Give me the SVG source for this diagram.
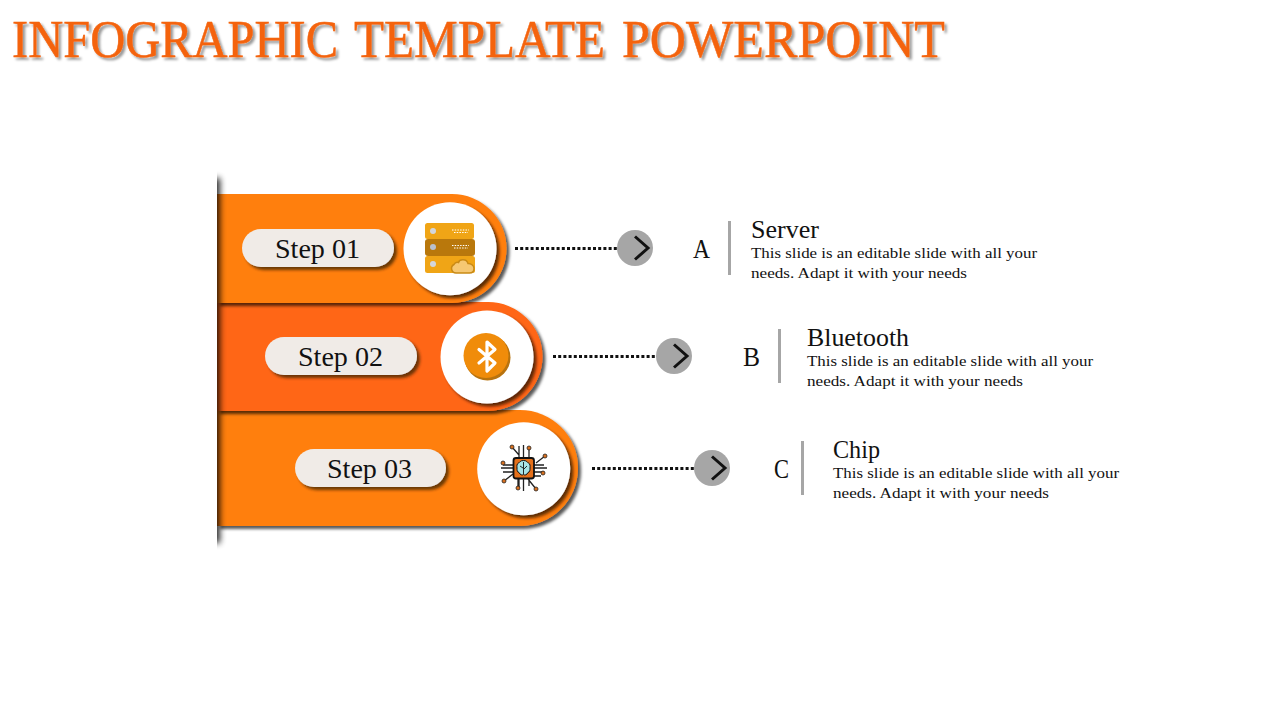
<svg xmlns="http://www.w3.org/2000/svg" width="1280" height="720" viewBox="0 0 1280 720">
<style>
text{font-family:"Liberation Serif","Times New Roman",serif;fill:#111}
.title{font-size:53px;fill:#F4640F;stroke:#F4640F;stroke-width:.5;filter:url(#ts)}
.step{font-size:28px}
.letter{font-size:28px}
.head{font-size:25px}
.desc{font-size:15.5px}
.pill{fill:#F0EBE7;filter:url(#ps)}
.disc{fill:#fff;filter:url(#cs)}
.bar{fill:#A6A6A6}
.dots{fill:none;stroke:#111;stroke-width:3;stroke-dasharray:3 2.2}
.btn{fill:#A6A6A6}
.chev{fill:none;stroke:#111;stroke-width:3}
.w{fill:none;stroke:#222;stroke-width:1.3}
.p{fill:#D9701E;stroke:#222;stroke-width:.8}
</style>
<defs>
<filter id="ts" x="-2%" y="-20%" width="104%" height="150%"><feDropShadow dx="2.5" dy="2.5" stdDeviation="1.2" flood-color="#000" flood-opacity=".4"/></filter>
<filter id="bs" x="-5%" y="-5%" width="112%" height="115%"><feDropShadow dx="3" dy="3" stdDeviation="1.8" flood-color="#000" flood-opacity=".65"/></filter>
<filter id="ps" x="-10%" y="-20%" width="125%" height="150%"><feDropShadow dx="3" dy="3" stdDeviation="1.5" flood-color="#3a2000" flood-opacity=".75"/></filter>
<filter id="cs" x="-10%" y="-10%" width="125%" height="125%"><feDropShadow dx="3" dy="3" stdDeviation="1.6" flood-color="#2a1500" flood-opacity=".75"/></filter>
<filter id="edge" x="-300%" y="-5%" width="700%" height="110%"><feGaussianBlur stdDeviation="3.2"/></filter>
<clipPath id="right"><rect x="217" y="160" width="30" height="400"/></clipPath>
</defs>

<text class="title" y="57"><tspan x="12" textLength="326" lengthAdjust="spacingAndGlyphs">INFOGRAPHIC</tspan><tspan x="354" textLength="251" lengthAdjust="spacingAndGlyphs">TEMPLATE</tspan><tspan x="622" textLength="323" lengthAdjust="spacingAndGlyphs">POWERPOINT</tspan></text>

<g id="band-3"><path d="M217 410H520A58 58 0 0 1 520 526H217Z" fill="#FF7F11" filter="url(#bs)"/></g>
<g id="band-2"><path d="M217 302H488A54.500 54.500 0 0 1 488 411H217Z" fill="#FF6612" filter="url(#bs)"/></g>
<g id="band-1"><path d="M217 194H452A54.500 54.500 0 0 1 452 303H217Z" fill="#FF7F11" filter="url(#bs)"/></g>
<g id="left-edge" clip-path="url(#right)"><rect x="210" y="178" width="10" height="365" fill="#000" opacity=".85" filter="url(#edge)"/></g>

<g id="step-01">
<rect class="pill" x="242" y="229" width="152" height="38" rx="19"/>
<text class="step" x="275" y="258" textLength="85" lengthAdjust="spacingAndGlyphs">Step 01</text>
<circle class="disc" cx="450" cy="248.700" r="46.500"/>
<g id="icon-server">
<rect x="425" y="223" width="49" height="16" rx="2.500" fill="#F0A516"/>
<rect x="425" y="256" width="50" height="17" rx="2.500" fill="#F0A516"/>
<rect x="425" y="239" width="50" height="17" rx="3" fill="#B9780C"/>
<circle cx="433" cy="231" r="3" fill="#D3D6DC"/><circle cx="433" cy="247" r="3" fill="#B9C0CE"/><circle cx="433" cy="264" r="3" fill="#D3D6DC"/>
<path d="M452 230h17M454 232.500h14M452 245.500h17M454 248h14" stroke="#fff" stroke-width="1.200" stroke-dasharray="1.500 1.200" fill="none"/>
<path d="M456 273a4.500 4.500 0 0 1-2-8.500c1-2 3-2.500 4.500-2 1-3.500 8-4 9.500 1 3.500 0 6 2.500 6 5 0 3-2 4.500-4.500 4.500Z" fill="#F6C873" stroke="#C98A16" stroke-width="1.500"/>
</g>
</g>

<g id="step-02">
<rect class="pill" x="265" y="337" width="152" height="38" rx="19"/>
<text class="step" x="298" y="366" textLength="85" lengthAdjust="spacingAndGlyphs">Step 02</text>
<circle class="disc" cx="487" cy="357" r="46.500"/>
<g id="icon-bluetooth">
<circle cx="487.500" cy="357.500" r="23" fill="#B8730E"/>
<circle cx="486" cy="355.500" r="22.500" fill="#F08C0A"/>
<path d="M479 349.500L495 363L487 371V342L495 349.500L479 363" fill="none" stroke="#fff" stroke-width="3.200" stroke-linejoin="round" stroke-linecap="round"/>
</g>
</g>

<g id="step-03">
<rect class="pill" x="295" y="449" width="151" height="38" rx="19"/>
<text class="step" x="327" y="478" textLength="85" lengthAdjust="spacingAndGlyphs">Step 03</text>
<circle class="disc" cx="523.700" cy="468.700" r="46.500"/>
<g id="icon-chip">
<path class="w" d="M501 468h46M503 472h10M534 472h10M503 465h10M534 465h10M519 446v12M523.500 445v13M529 448v10M519 478v10M523.500 478v13M529 478v8M512 447l7 8M545 456l-9 7M504 481l9-7M541 476h-7M536 489l-8-10M518 487v-9"/>
<circle class="p" cx="512" cy="447" r="2"/><circle class="p" cx="529" cy="448" r="2"/><circle class="p" cx="545" cy="456" r="2"/><circle class="p" cx="504" cy="481" r="2"/><circle class="p" cx="503" cy="463" r="2"/><circle class="p" cx="518" cy="488" r="2"/><circle class="p" cx="536" cy="489" r="2"/><circle class="p" cx="543" cy="473" r="2"/>
<rect x="513.500" y="458" width="20.500" height="20.500" rx="2.500" fill="#E5701A" stroke="#111" stroke-width="1.800"/>
<path d="M523.500 460.500c-3.500 0-3.500 2-5 2.500-2 1-1.500 3-1.500 5 0 2 0 4 2 4.500 1 2.500 3.500 3 4.500 2 1 1 3.500 .5 4.500-2 2-.5 2-2.500 2-4.500 0-2 .5-4-1.500-5-1.500-.5-1.500-2.500-5-2.500Z" fill="#A8E4E6" stroke="#111" stroke-width="1"/>
<path d="M523.500 462v12M520 466l3 2M527 466l-3 3" stroke="#111" stroke-width=".9" fill="none"/>
</g>
</g>

<g id="connectors">
<path class="dots" d="M515 248.500H618"/>
<path class="dots" d="M553 356.500H657"/>
<path class="dots" d="M592 468.500H696"/>
</g>

<g id="item-a">
<circle class="btn" cx="635" cy="248" r="18"/><path class="chev" d="M635 236.500L648 248L635 259.500"/>
<text class="letter" x="693" y="258" textLength="17" lengthAdjust="spacingAndGlyphs">A</text>
<rect class="bar" x="728" y="221" width="3" height="54"/>
<text class="head" x="751" y="238" textLength="68" lengthAdjust="spacingAndGlyphs">Server</text>
<text class="desc" x="751" y="258" textLength="286" lengthAdjust="spacingAndGlyphs">This slide is an editable slide with all your</text>
<text class="desc" x="751" y="278" textLength="216" lengthAdjust="spacingAndGlyphs">needs. Adapt it with your needs</text>
</g>
<g id="item-b">
<circle class="btn" cx="674" cy="356" r="18"/><path class="chev" d="M674 344.500L687 356L674 367.500"/>
<text class="letter" x="743" y="366" textLength="17" lengthAdjust="spacingAndGlyphs">B</text>
<rect class="bar" x="778" y="329" width="3" height="54"/>
<text class="head" x="807" y="346" textLength="102" lengthAdjust="spacingAndGlyphs">Bluetooth</text>
<text class="desc" x="807" y="366" textLength="286" lengthAdjust="spacingAndGlyphs">This slide is an editable slide with all your</text>
<text class="desc" x="807" y="386" textLength="216" lengthAdjust="spacingAndGlyphs">needs. Adapt it with your needs</text>
</g>
<g id="item-c">
<circle class="btn" cx="712" cy="468" r="18"/><path class="chev" d="M712 456.500L725 468L712 479.500"/>
<text class="letter" x="774" y="478" textLength="15" lengthAdjust="spacingAndGlyphs">C</text>
<rect class="bar" x="801" y="441" width="3" height="54"/>
<text class="head" x="833" y="458" textLength="47" lengthAdjust="spacingAndGlyphs">Chip</text>
<text class="desc" x="833" y="478" textLength="286" lengthAdjust="spacingAndGlyphs">This slide is an editable slide with all your</text>
<text class="desc" x="833" y="498" textLength="216" lengthAdjust="spacingAndGlyphs">needs. Adapt it with your needs</text>
</g>
</svg>
